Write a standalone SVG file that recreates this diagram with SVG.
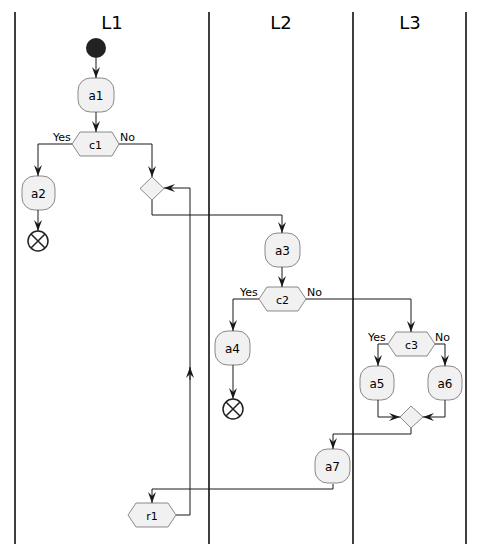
<svg xmlns="http://www.w3.org/2000/svg" width="485" height="554" viewBox="0 0 485 554">
<defs>
<style>
.lane{stroke:#000;stroke-width:1.5;fill:none}
.title{font-family:"DejaVu Sans",sans-serif;font-size:18px;fill:#000;text-anchor:middle}
.act{fill:#F1F1F1;stroke:#181818;stroke-width:0.5}
.t{font-family:"DejaVu Sans",sans-serif;font-size:12px;fill:#000;text-anchor:middle}
.lbl{font-family:"DejaVu Sans",sans-serif;font-size:11px;fill:#000}
.c{stroke:#181818;stroke-width:1;fill:none}
.ah{fill:#181818;stroke:#181818;stroke-width:1}
</style>
<marker id="arr" viewBox="0 0 12 10" refX="11" refY="5" markerWidth="12" markerHeight="10" markerUnits="userSpaceOnUse" orient="auto">
<polygon points="0,1 11,5 0,9 4,5" fill="#181818"/>
</marker>
</defs>
<g id="lanes">
<line class="lane" x1="15" y1="12" x2="15" y2="544"/>
<line class="lane" x1="209" y1="12" x2="209" y2="544"/>
<line class="lane" x1="353" y1="12" x2="353" y2="544"/>
<line class="lane" x1="466" y1="12" x2="466" y2="544"/>
<text class="title" x="112" y="29">L1</text>
<text class="title" x="281" y="29">L2</text>
<text class="title" x="410" y="29">L3</text>
</g>
<g id="connectors">
<path class="c" d="M96,58 V78" marker-end="url(#arr)"/>
<path class="c" d="M96,112 V132" marker-end="url(#arr)"/>
<path class="c" d="M72,144 H38 V176" marker-end="url(#arr)"/>
<path class="c" d="M119,144 H152 V177" marker-end="url(#arr)"/>
<path class="c" d="M38,210 V231" marker-end="url(#arr)"/>
<path class="c" d="M152,200 V215 H282 V233" marker-end="url(#arr)"/>
<path class="c" d="M282,267 V287" marker-end="url(#arr)"/>
<path class="c" d="M259,299 H233 V331" marker-end="url(#arr)"/>
<path class="c" d="M233,365 V399" marker-end="url(#arr)"/>
<path class="c" d="M306,299 H411 V332" marker-end="url(#arr)"/>
<path class="c" d="M388,344 H378 V366" marker-end="url(#arr)"/>
<path class="c" d="M435,344 H445 V366" marker-end="url(#arr)"/>
<path class="c" d="M378,400 V417 H400" marker-end="url(#arr)"/>
<path class="c" d="M445,400 V417 H423" marker-end="url(#arr)"/>
<path class="c" d="M411,428 V434 H333 V449" marker-end="url(#arr)"/>
<path class="c" d="M333,484 V489 H152 V503" marker-end="url(#arr)"/>
<path class="c" d="M176,515 H190 V188 H164" marker-end="url(#arr)"/>
<path class="c" d="M190,380 V367" marker-end="url(#arr)"/>
<text class="lbl" x="53" y="141">Yes</text>
<text class="lbl" x="120" y="141">No</text>
<text class="lbl" x="240" y="296">Yes</text>
<text class="lbl" x="307" y="296">No</text>
<text class="lbl" x="368" y="341">Yes</text>
<text class="lbl" x="435" y="341">No</text>
</g>
<g id="start"><circle cx="96" cy="48" r="10" fill="#222"/></g>
<g id="a1"><rect class="act" x="78" y="78" width="36" height="34" rx="12.5"/><text class="t" x="96" y="99.5">a1</text></g>
<g id="c1"><polygon class="act" points="72,144 80,132 112,132 119,144 112,156 80,156"/><text class="t" x="95.5" y="148.5" style="font-size:11px">c1</text></g>
<g id="a2"><rect class="act" x="22" y="176" width="33" height="34" rx="12.5"/><text class="t" x="38.5" y="197.5">a2</text></g>
<g id="end1"><circle cx="38" cy="241" r="10" fill="none" stroke="#222" stroke-width="1.5"/><path d="M31,234 L45,248 M45,234 L31,248" stroke="#222" stroke-width="1.5"/></g>
<g id="merge1"><polygon class="act" points="152,177 164,188.5 152,200 140,188.5"/></g>
<g id="a3"><rect class="act" x="265" y="233" width="35" height="34" rx="12.5"/><text class="t" x="282.5" y="254.5">a3</text></g>
<g id="c2"><polygon class="act" points="259,299 267,287 298,287 306,299 298,311 267,311"/><text class="t" x="282.5" y="303.5" style="font-size:11px">c2</text></g>
<g id="a4"><rect class="act" x="215" y="331" width="35" height="34" rx="12.5"/><text class="t" x="232.5" y="352.5">a4</text></g>
<g id="end2"><circle cx="233" cy="409" r="10" fill="none" stroke="#222" stroke-width="1.5"/><path d="M226,402 L240,416 M240,402 L226,416" stroke="#222" stroke-width="1.5"/></g>
<g id="c3"><polygon class="act" points="388,344 396,332 427,332 435,344 427,356 396,356"/><text class="t" x="411.5" y="348.5" style="font-size:11px">c3</text></g>
<g id="a5"><rect class="act" x="360" y="366" width="34" height="34" rx="12.5"/><text class="t" x="377" y="387.5">a5</text></g>
<g id="a6"><rect class="act" x="428" y="366" width="34" height="34" rx="12.5"/><text class="t" x="445" y="387.5">a6</text></g>
<g id="merge2"><polygon class="act" points="411,406 423,417 411,428 400,417"/></g>
<g id="a7"><rect class="act" x="315" y="449" width="35" height="34" rx="12.5"/><text class="t" x="332.5" y="470.5">a7</text></g>
<g id="r1"><polygon class="act" points="128,515 136,503 168,503 176,515 168,527 136,527"/><text class="t" x="152" y="519.5" style="font-size:11px">r1</text></g>
</svg>
